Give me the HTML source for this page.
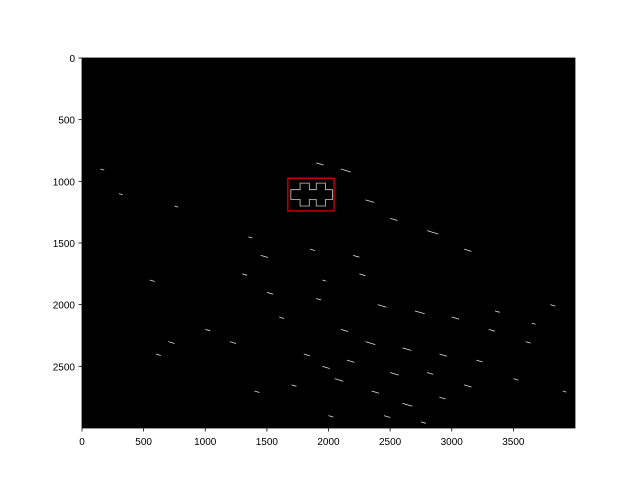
<!DOCTYPE html>
<html><head><meta charset="utf-8"><style>
body{margin:0;background:#fff;}
svg{font-family:"Liberation Sans","DejaVu Sans",sans-serif;}
</style></head><body>
<svg id="chart" width="640" height="480">
</svg>
<script>
const xTicks=[0,500,1000,1500,2000,2500,3000,3500];
const yTicks=[0,500,1000,1500,2000,2500];
const imgW=4000, imgH=3000;
const boxX=[1670,2045];
const boxY=[975,1240];
// approximate edge fragments [x,y,len] in data coords
const specks=[[1900,850,60],[2100,900,80],[2300,1150,70],[2500,1300,60],[2800,1400,90],[3100,1550,60],[2200,1600,50],[1450,1600,60],[1300,1750,40],[1500,1900,50],[1900,1950,40],[2400,2000,70],[2700,2050,80],[3000,2100,60],[3300,2200,50],[3600,2300,40],[3800,2000,40],[2100,2200,60],[2300,2300,80],[2600,2350,70],[2900,2400,60],[3200,2450,50],[1800,2400,50],[1950,2500,60],[2050,2600,70],[2350,2700,60],[2600,2800,80],[2900,2750,50],[3100,2650,60],[1700,2650,40],[1400,2700,40],[1200,2300,50],[1000,2200,40],[700,2300,50],[600,2400,40],[550,1800,40],[300,1100,30],[150,900,30],[750,1200,30],[3500,2600,40],[3900,2700,30],[2450,2900,50],[2750,2950,40],[1850,1550,40],[1950,1800,30],[2250,1750,50],[1600,2100,40],[2150,2450,60],[2500,2550,70],[2800,2550,50],[3350,2050,40],[3650,2150,30],[2000,2900,40],[1350,1450,30]];
const L=82,T=58,W=493,H=370;
const sx=v=>L+v/imgW*W, sy=v=>T+v/imgH*H;
const svg=document.getElementById('chart');
const NS='http://www.w3.org/2000/svg';
function mk(tag,attrs){const e=document.createElementNS(NS,tag);for(const k in attrs)e.setAttribute(k,attrs[k]);svg.appendChild(e);return e;}
let bg=mk('rect',{x:L,y:T,width:W,height:H,fill:'#000'});


specks.forEach(s=>{
  const e=mk('line',{x1:sx(s[0]),y1:sy(s[1]),x2:sx(s[0]+s[2]),y2:sy(s[1]+s[2]*0.3),stroke:'#ddd','stroke-width':0.8});
  
  
});
// puzzle outline inside box
const px=sx(boxX[0]), py=sy(boxY[0]), pw=sx(boxX[1])-px, ph=sy(boxY[1])-py;
let pz=mk('path',{d:`M${px+3} ${py+ph*0.35} h${pw*0.2} v-${ph*0.2} h${pw*0.2} v${ph*0.2} h${pw*0.15} v-${ph*0.2} h${pw*0.2} v${ph*0.2} h${pw*0.15} v${ph*0.3} h-${pw*0.15} v${ph*0.2} h-${pw*0.2} v-${ph*0.2} h-${pw*0.15} v${ph*0.2} h-${pw*0.2} v-${ph*0.2} h-${pw*0.2} z`,fill:'none',stroke:'#ccc','stroke-width':0.8});


let box=mk('rect',{x:px,y:py,width:pw,height:ph,fill:'none',stroke:'#e00000','stroke-width':1.3});


let fr=mk('rect',{x:L,y:T,width:W,height:H,fill:'none',stroke:'#000','stroke-width':0.8});


xTicks.forEach(v=>{
  const x=sx(v);
  const t=mk('line',{x1:x,y1:T+H,x2:x,y2:T+H+3.5,stroke:'#000','stroke-width':0.8});
  
  
  const l=mk('text',{x:x,y:T+H+17,'font-size':10,'text-anchor':'middle',fill:'#000'});
  l.textContent=v;
  
  
});
yTicks.forEach(v=>{
  const y=sy(v);
  const t=mk('line',{x1:L-3.5,y1:y,x2:L,y2:y,stroke:'#000','stroke-width':0.8});
  
  
  const l=mk('text',{x:L-7,y:y+4,'font-size':10,'text-anchor':'end',fill:'#000'});
  l.textContent=v;
  
  
});
</script>
</body></html>
